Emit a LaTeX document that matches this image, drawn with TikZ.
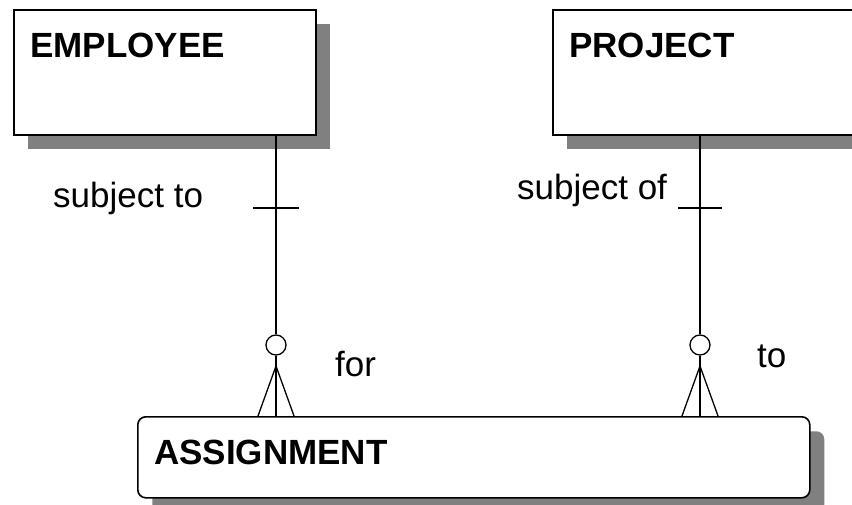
\documentclass[tikz,border=0pt]{standalone}
\usepackage{fontspec}
\setmainfont{Liberation Sans}
\usetikzlibrary{shadows,calc}
\definecolor{shadowgray}{RGB}{128,128,128}
\begin{document}
\begin{tikzpicture}[x=1pt,y=-1pt,
  entity/.style={draw=black, line width=1.6pt, fill=white, inner sep=0pt, anchor=north west,
    drop shadow={fill=shadowgray, opacity=1, shadow xshift=14.5pt, shadow yshift=-14.5pt}},
  title/.style={anchor=base west, inner sep=0pt, font=\fontsize{35}{40}\selectfont\bfseries},
  role/.style={anchor=base west, inner sep=0pt, font=\fontsize{35}{40}\selectfont},
  link/.style={line width=1.3pt},
  ring/.style={circle, draw=black, line width=1.3pt, fill=white, minimum size=20pt, inner sep=0pt}]
\useasboundingbox (0,0) rectangle (852,505);
\clip (0,0) rectangle (852,505);
\fill[white] (0,0) rectangle (852,505);
% entities
\node[entity, minimum width=302pt, minimum height=125pt] (emp) at (13,9) {};
\node[title] (empt) at (30,58) {EMPLOYEE};
\node[entity, minimum width=330pt, minimum height=125pt] (prj) at (552,9) {};
\node[title] (prjt) at (569,58) {PROJECT};
\node[entity, rounded corners=8pt, minimum width=672pt, minimum height=81pt] (asg) at (137,416) {};
\node[title] (asgt) at (154,464) {ASSIGNMENT};
% connector coordinates
\coordinate (ex) at (276,0);
\coordinate (px) at (700,0);
\node[ring] (ec) at (276,345) {};
\node[ring] (pc) at (700,345) {};
\coordinate (ea) at (276,366);
\coordinate (pa) at (700,366);
% employee -> assignment
\draw[link] (emp.south -| ex) -- (ec.north);
\draw[link] (ec.south) -- (asg.north -| ex);
\draw[link] (253,208) -- (299,208);
\draw[link] ($(asg.north -| ex)+(-18,0)$) -- (ea) -- ($(asg.north -| ex)+(18,0)$);
% project -> assignment
\draw[link] (prj.south -| px) -- (pc.north);
\draw[link] (pc.south) -- (asg.north -| px);
\draw[link] (678,208) -- (722,208);
\draw[link] ($(asg.north -| px)+(-18,0)$) -- (pa) -- ($(asg.north -| px)+(18,0)$);
% roles
\node[role] (r1) at (53,208) {subject to};
\node[role] (r2) at (517,200) {subject of};
\node[role] (r3) at (335,376) {for};
\node[role] (r4) at (757,367) {to};
\end{tikzpicture}
\end{document}
